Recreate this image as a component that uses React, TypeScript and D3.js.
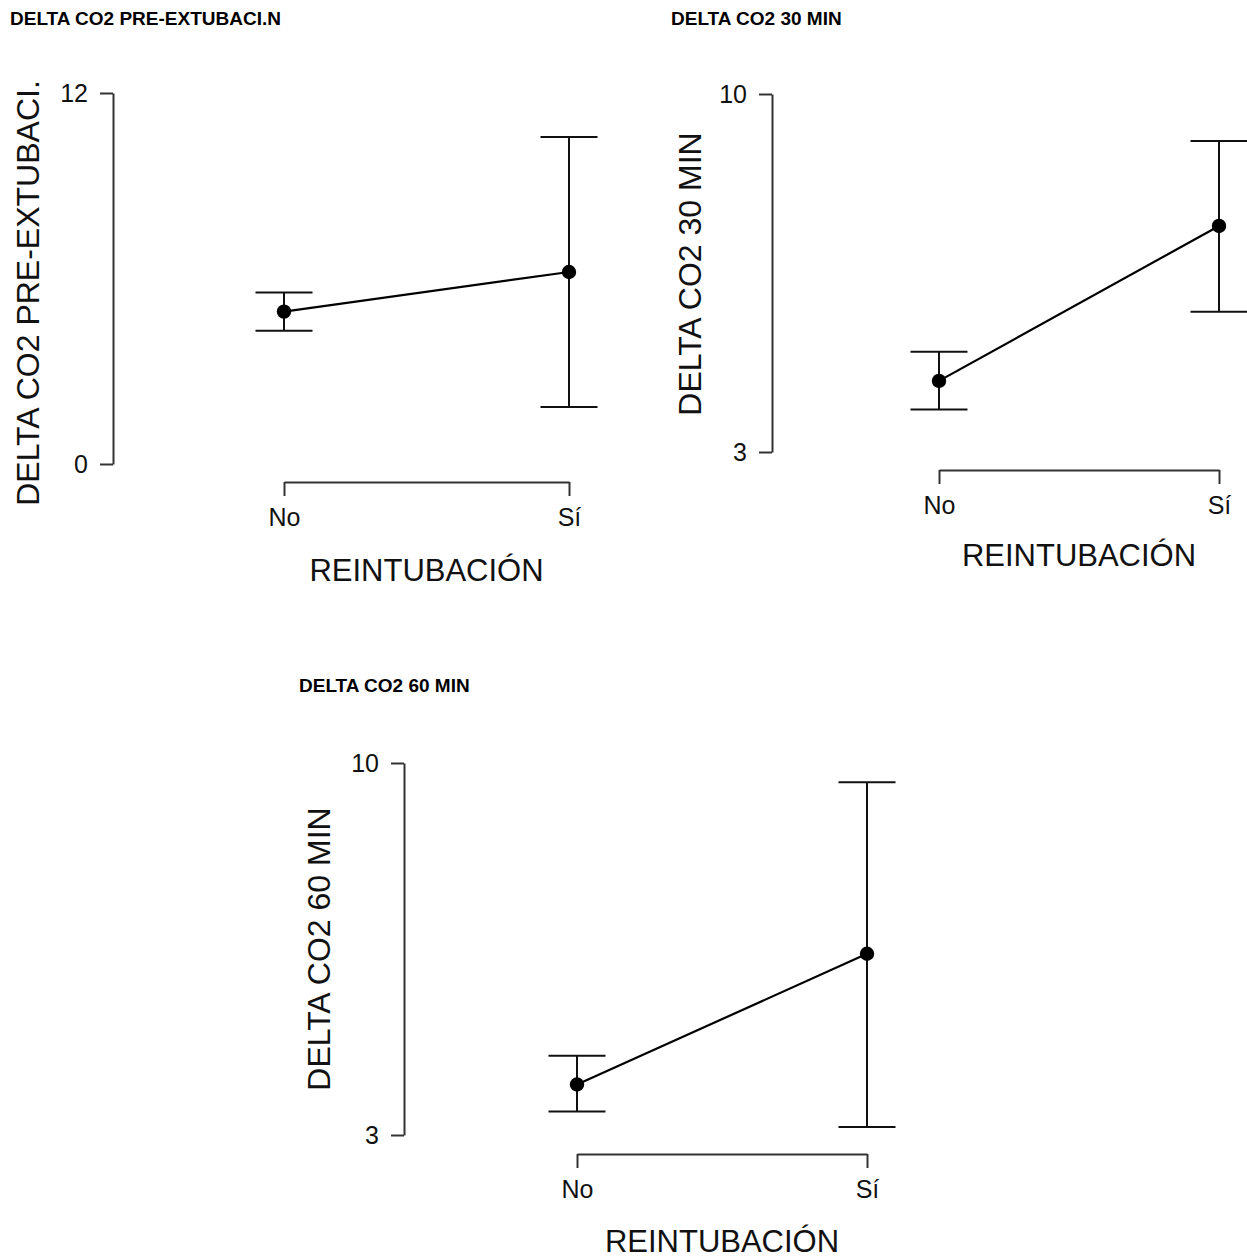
import React, { useEffect, useRef } from 'react';
import * as d3 from 'd3';

// groups on the x axis
const groups = ['No', 'Sí'];

// DELTA CO2 PRE-EXTUBACIÓN
const preMean = [4.93, 6.21];
const preLower = [4.31, 1.84];
const preUpper = [5.55, 10.58];
const preTicks = [0, 12];

// DELTA CO2 30 MIN
const min30Mean = [4.39, 7.42];
const min30Lower = [3.83, 5.74];
const min30Upper = [4.96, 9.08];
const min30Ticks = [3, 10];

// DELTA CO2 60 MIN
const min60Mean = [3.95, 6.41];
const min60Lower = [3.44, 3.15];
const min60Upper = [4.49, 9.64];
const min60Ticks = [3, 10];

const FONT = "'Liberation Sans', Arial, sans-serif";

interface Panel {
  title: string;
  yTitle: string;
  mean: number[];
  lower: number[];
  upper: number[];
  ticks: number[];
  titleX: number;
  titleY: number;
  axisX: number;
  yTop: number;
  yBottom: number;
  xLeft: number;
  xRight: number;
  xAxisY: number;
  yTitleX: number;
  yTitleMid: number;
  xTitleY: number;
}

const panels: Panel[] = [
  {
    title: 'DELTA CO2 PRE-EXTUBACI.N', yTitle: 'DELTA CO2 PRE-EXTUBACI.',
    mean: preMean, lower: preLower, upper: preUpper, ticks: preTicks,
    titleX: 10, titleY: 25, axisX: 113, yTop: 93, yBottom: 464,
    xLeft: 284, xRight: 569, xAxisY: 482, yTitleX: 39, yTitleMid: 293, xTitleY: 581,
  },
  {
    title: 'DELTA CO2 30 MIN', yTitle: 'DELTA CO2 30 MIN',
    mean: min30Mean, lower: min30Lower, upper: min30Upper, ticks: min30Ticks,
    titleX: 671, titleY: 25, axisX: 772, yTop: 94, yBottom: 452,
    xLeft: 939, xRight: 1219, xAxisY: 470, yTitleX: 701, yTitleMid: 274, xTitleY: 566,
  },
  {
    title: 'DELTA CO2 60 MIN', yTitle: 'DELTA CO2 60 MIN',
    mean: min60Mean, lower: min60Lower, upper: min60Upper, ticks: min60Ticks,
    titleX: 299, titleY: 692, axisX: 404, yTop: 763, yBottom: 1135,
    xLeft: 577, xRight: 867, xAxisY: 1154, yTitleX: 330, yTitleMid: 949, xTitleY: 1252,
  },
];

export default function App() {
  const ref = useRef<SVGSVGElement>(null);

  useEffect(() => {
    const svg = d3.select(ref.current);
    svg.selectAll('*').remove();
    svg.append('rect').attr('width', 1247).attr('height', 1259).attr('fill', 'white');

    panels.forEach((p) => {
      const g = svg.append('g');
      const y = d3.scaleLinear()
        .domain([p.ticks[0], p.ticks[1]])
        .range([p.yBottom, p.yTop]);
      const x = d3.scalePoint<string>()
        .domain(groups)
        .range([p.xLeft, p.xRight]);

      g.append('text')
        .attr('x', p.titleX)
        .attr('y', p.titleY)
        .style('font-family', FONT)
        .style('font-weight', 'bold')
        .style('font-size', '19px')
        .text(p.title);

      const yAxis = d3.axisLeft(y)
        .tickValues(p.ticks)
        .tickFormat(d3.format('d'))
        .tickSize(13).tickSizeOuter(0).tickPadding(12);
      const ya = g.append('g').attr('transform', `translate(${p.axisX},0)`).call(yAxis);
      const xAxis = d3.axisBottom(x).tickSize(14).tickSizeOuter(0).tickPadding(12);
      const xa = g.append('g').attr('transform', `translate(0,${p.xAxisY})`).call(xAxis);

      [ya, xa].forEach((a) => {
        a.select('.domain').attr('stroke', '#333').attr('stroke-width', 2);
        a.selectAll('.tick line').attr('stroke', '#333').attr('stroke-width', 2);
        a.selectAll('.tick text')
          .attr('fill', '#111')
          .style('font-family', FONT)
          .style('font-size', '25px');
      });

      g.append('text')
        .attr('transform', `translate(${p.yTitleX},${p.yTitleMid}) rotate(-90)`)
        .attr('text-anchor', 'middle')
        .style('font-family', FONT)
        .style('font-size', '32px')
        .attr('fill', '#111')
        .text(p.yTitle);

      g.append('text')
        .attr('x', (p.xLeft + p.xRight) / 2)
        .attr('y', p.xTitleY)
        .attr('text-anchor', 'middle')
        .style('font-family', FONT)
        .style('font-size', '31px')
        .attr('fill', '#111')
        .text('REINTUBACIÓN');

      const pts = groups.map((k, i) => ({ k, m: p.mean[i], lo: p.lower[i], hi: p.upper[i] }));

      const line = d3.line<{ k: string; m: number }>()
        .x((d) => x(d.k) as number)
        .y((d) => y(d.m));
      g.append('path')
        .datum(pts)
        .attr('d', line)
        .attr('fill', 'none')
        .attr('stroke', 'black')
        .attr('stroke-width', 2.2);

      const eb = g.selectAll('.eb').data(pts).enter().append('g');
      eb.append('line')
        .attr('x1', (d) => x(d.k) as number)
        .attr('x2', (d) => x(d.k) as number)
        .attr('y1', (d) => y(d.lo))
        .attr('y2', (d) => y(d.hi))
        .attr('stroke', '#111').attr('stroke-width', 2);
      [(d: any) => y(d.lo), (d: any) => y(d.hi)].forEach((fy) => {
        eb.append('line')
          .attr('x1', (d) => (x(d.k) as number) - 28.5)
          .attr('x2', (d) => (x(d.k) as number) + 28.5)
          .attr('y1', fy)
          .attr('y2', fy)
          .attr('stroke', '#111').attr('stroke-width', 2);
      });
      eb.append('circle')
        .attr('cx', (d) => x(d.k) as number)
        .attr('cy', (d) => y(d.m))
        .attr('r', 7.2)
        .attr('fill', 'black');
    });
  }, []);

  return (
    <svg
      ref={ref}
      width={1247}
      height={1259}
      style={{ position: 'absolute', left: 0, top: 0 }}
    />
  );
}
